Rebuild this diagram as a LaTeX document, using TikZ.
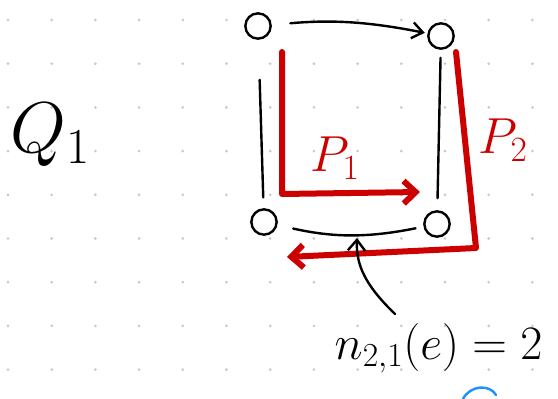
\documentclass[tikz,border=0pt]{standalone}
\usepackage{fix-cm}
\usepackage{amsmath,amssymb}
\usepackage{tikz}
\usetikzlibrary{arrows.meta}
\definecolor{pen}{RGB}{205,0,0}
\definecolor{dotc}{RGB}{200,200,200}
\definecolor{inkblue}{RGB}{30,144,255}

\begin{document}
\begin{tikzpicture}[x=0.75pt,y=-0.75pt,line cap=round,line join=round,
    vert/.style={draw,circle,line width=1.8pt,minimum size=19pt,inner sep=0pt},
    edge/.style={line width=1.8pt},
    ppath/.style={draw=pen,line width=4.5pt,-{Straight Barb[length=9pt,width=17pt]}},
    plabel/.style={text=pen,font=\fontsize{38}{40}\selectfont}]
    \useasboundingbox (0,0) rectangle (558,399);
    % dot grid
    \foreach \i in {0,...,12}
      \foreach \j in {0,...,8}
        \fill[dotc] (8+43.7*\i,20+43.7*\j) circle (1.1pt);
    % vertices
    \node[vert] (tl) at (258,26) {};
    \node[vert] (tr) at (441,36) {};
    \node[vert] (bl) at (264,222) {};
    \node[vert] (br) at (437,224) {};
    % edges
    \draw[edge,-{Straight Barb[length=8pt,width=12pt]},shorten <=14pt,shorten >=2pt] (tl) to[bend left=8] (tr);
    \draw[edge,shorten <=30pt,shorten >=8pt] (tl) -- (bl);
    \draw[edge,shorten <=6pt,shorten >=9pt] (tr) -- (br);
    \draw[edge,shorten <=12pt,shorten >=6pt] (bl) to[bend right=12] (br);
    % paths
    \coordinate (p1s) at (282,52);
    \coordinate (p1c) at (282,194);
    \coordinate (p1e) at (420,192);
    \draw[ppath] (p1s) -- (p1c) -- (p1e);
    \coordinate (p2s) at (456,52);
    \coordinate (p2c) at (476,248);
    \coordinate (p2e) at (287,257);
    \draw[ppath] (p2s) -- (p2c) -- (p2e);
    \node[plabel] (lp1) at (335,158) {$P_1$};
    \node[plabel] (lp2) at (503,140) {$P_2$};
    % labels
    \node[font=\fontsize{54}{56}\selectfont] (q1) at (50,135) {$Q_1$};
    \node[font=\fontsize{36}{38}\selectfont,anchor=west] (cnt) at (330,348) {$n_{2,1}(e)=2$};
    \coordinate (ptail) at (395,314);
    \coordinate (etip) at (357,238);
    \draw[edge,-{Straight Barb[length=8pt,width=13pt]}] (ptail) .. controls (365,285) and (356,265) .. (etip);
    \draw[inkblue,line width=1.8pt] (463,399) .. controls (470,385) and (490,384) .. (496,395);
\end{tikzpicture}
\end{document}
